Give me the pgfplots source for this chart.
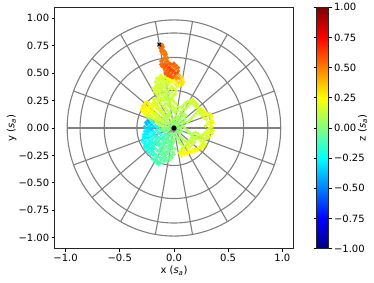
\documentclass[border=0pt]{standalone}
\usepackage{fontspec}
\setmainfont{DejaVu Sans}
\usepackage{pgfplots}
\pgfplotsset{compat=1.18}
\pgfplotstableread{
x y z
0.00 0.00 0.02
0.02 0.02 0.03
0.04 0.00 0.02
0.03 -0.03 0.01
0.05 -0.05 0.03
0.07 -0.03 0.05
0.06 0.00 0.06
0.08 0.02 0.07
0.10 0.00 0.08
0.12 -0.02 0.10
0.14 -0.04 0.09
0.16 -0.06 0.10
0.18 -0.08 0.12
0.20 -0.10 0.11
0.19 -0.13 0.13
0.17 -0.15 0.15
0.15 -0.17 0.17
0.13 -0.19 0.19
0.10 -0.20 0.20
0.08 -0.22 0.22
0.06 -0.21 0.21
0.08 -0.23 0.23
0.11 -0.22 0.24
0.14 -0.21 0.25
0.17 -0.20 0.24
0.20 -0.19 0.23
0.23 -0.18 0.22
0.25 -0.16 0.20
0.27 -0.14 0.18
0.25 -0.12 0.16
0.23 -0.10 0.15
0.21 -0.08 0.14
0.24 -0.07 0.15
0.27 -0.06 0.16
0.30 -0.07 0.17
0.32 -0.05 0.18
0.34 -0.03 0.19
0.33 0.00 0.20
0.34 0.03 0.21
0.33 0.06 0.22
0.34 0.09 0.21
0.32 0.11 0.20
0.29 0.12 0.19
0.27 0.14 0.18
0.25 0.15 0.17
0.23 0.17 0.16
0.21 0.19 0.15
0.19 0.21 0.14
0.17 0.23 0.15
0.15 0.22 0.14
0.13 0.20 0.13
0.11 0.18 0.12
0.09 0.17 0.11
0.07 0.15 0.10
0.06 0.13 0.09
0.08 0.11 0.08
0.06 0.09 0.07
0.04 0.07 0.06
0.02 0.05 0.05
0.00 0.03 0.04
0.03 0.03 0.04
0.05 0.04 0.05
0.07 0.06 0.06
0.09 0.05 0.07
0.10 0.08 0.08
0.11 0.11 0.09
0.09 0.13 0.10
0.04 0.10 0.08
0.02 0.08 0.06
0.00 0.06 0.05
-0.02 0.04 0.04
-0.04 0.02 0.03
-0.06 0.00 0.02
-0.08 -0.01 0.00
0.07 0.19 0.12
0.09 0.21 0.13
0.11 0.23 0.14
0.13 0.24 0.15
0.15 0.25 0.16
0.17 0.26 0.17
0.19 0.24 0.16
0.21 0.22 0.17
0.22 0.20 0.18
0.24 0.18 0.19
0.26 0.17 0.20
0.28 0.15 0.21
0.30 0.14 0.22
0.31 0.12 0.21
0.33 0.13 0.22
0.35 0.11 0.22
0.35 0.07 0.21
0.36 0.05 0.22
0.35 0.01 0.21
0.36 -0.02 0.20
0.35 -0.05 0.19
0.33 -0.08 0.18
0.31 -0.09 0.17
0.29 -0.10 0.17
0.27 -0.09 0.16
0.25 -0.08 0.15
0.22 -0.05 0.14
0.20 -0.04 0.13
0.18 -0.05 0.12
0.16 -0.09 0.12
0.14 -0.11 0.13
0.12 -0.13 0.14
0.10 -0.12 0.12
0.08 -0.10 0.10
0.06 -0.08 0.08
0.04 -0.10 0.06
0.05 -0.13 0.08
0.07 -0.15 0.10
0.09 -0.17 0.13
0.11 -0.16 0.15
0.13 -0.15 0.16
0.15 -0.13 0.15
0.17 -0.11 0.14
0.07 -0.19 0.18
0.05 -0.23 0.22
0.07 -0.25 0.24
0.10 -0.24 0.25
0.13 -0.23 0.26
0.16 -0.22 0.25
0.19 -0.21 0.24
0.22 -0.20 0.23
0.25 -0.19 0.22
0.27 -0.17 0.21
0.29 -0.15 0.20
0.28 -0.12 0.19
0.12 0.05 0.09
0.14 0.07 0.10
0.16 0.09 0.11
0.18 0.11 0.12
0.20 0.13 0.13
0.22 0.15 0.15
0.24 0.13 0.16
0.26 0.11 0.17
0.28 0.09 0.18
0.30 0.08 0.19
0.31 0.04 0.19
0.29 0.02 0.18
0.31 -0.02 0.18
0.29 -0.04 0.17
-0.02 0.01 0.02
-0.04 -0.01 0.00
-0.06 -0.03 -0.02
-0.05 -0.06 -0.03
-0.03 -0.08 -0.02
-0.01 -0.10 -0.01
-0.03 -0.12 -0.03
-0.05 -0.14 -0.05
-0.04 -0.17 -0.04
-0.02 -0.19 -0.02
-0.04 -0.21 -0.04
-0.06 -0.23 -0.06
-0.08 -0.25 -0.08
-0.10 -0.27 -0.07
-0.12 -0.29 -0.09
-0.14 -0.31 -0.10
-0.16 -0.29 -0.12
-0.15 -0.26 -0.11
-0.17 -0.24 -0.13
-0.19 -0.22 -0.15
-0.21 -0.24 -0.17
-0.23 -0.22 -0.19
-0.25 -0.20 -0.20
-0.27 -0.18 -0.21
-0.25 -0.15 -0.19
-0.23 -0.13 -0.17
-0.21 -0.15 -0.16
-0.19 -0.17 -0.14
-0.17 -0.19 -0.12
-0.15 -0.21 -0.10
-0.13 -0.23 -0.08
-0.11 -0.21 -0.07
-0.09 -0.19 -0.05
-0.10 -0.16 -0.06
-0.12 -0.14 -0.08
-0.14 -0.12 -0.10
-0.16 -0.10 -0.12
-0.18 -0.08 -0.15
-0.20 -0.06 -0.18
-0.22 -0.04 -0.22
-0.24 -0.06 -0.25
-0.26 -0.08 -0.24
-0.28 -0.06 -0.26
-0.27 -0.03 -0.28
-0.25 -0.01 -0.30
-0.23 0.01 -0.33
-0.25 0.03 -0.36
-0.23 0.05 -0.38
-0.21 0.03 -0.35
-0.19 0.01 -0.32
-0.20 -0.02 -0.28
-0.18 -0.04 -0.25
-0.16 -0.02 -0.22
-0.14 -0.04 -0.18
-0.12 -0.06 -0.15
-0.10 -0.08 -0.12
-0.08 -0.06 -0.10
-0.06 -0.08 -0.08
-0.08 -0.10 -0.09
-0.10 -0.12 -0.10
-0.07 -0.13 -0.07
-0.26 -0.12 -0.22
-0.28 -0.10 -0.25
-0.27 -0.14 -0.23
-0.20 -0.10 -0.20
-0.22 -0.12 -0.21
-0.24 -0.10 -0.23
-0.22 -0.08 -0.24
-0.20 -0.13 -0.18
-0.18 -0.14 -0.16
-0.16 -0.15 -0.14
-0.14 -0.16 -0.12
-0.12 -0.18 -0.10
-0.13 -0.20 -0.09
-0.11 -0.24 -0.07
-0.09 -0.23 -0.06
-0.07 -0.21 -0.05
-0.05 -0.19 -0.04
-0.07 -0.17 -0.06
-0.05 -0.16 -0.05
-0.03 -0.15 -0.03
-0.01 -0.14 -0.02
-0.02 -0.17 -0.03
-0.01 -0.22 -0.02
-0.03 -0.25 -0.04
-0.05 -0.27 -0.05
-0.07 -0.29 -0.06
-0.09 -0.30 -0.07
-0.11 -0.32 -0.08
-0.13 -0.27 -0.09
-0.17 -0.27 -0.12
-0.19 -0.25 -0.14
-0.21 -0.21 -0.17
-0.23 -0.19 -0.19
-0.25 -0.17 -0.21
-0.27 -0.16 -0.22
-0.29 -0.12 -0.24
-0.28 -0.08 -0.26
-0.26 -0.05 -0.28
-0.24 -0.03 -0.30
-0.22 -0.01 -0.32
-0.27 0.01 -0.33
-0.26 0.05 -0.37
-0.24 0.07 -0.40
-0.22 0.06 -0.38
-0.21 -0.01 -0.34
-0.19 -0.06 -0.24
-0.17 -0.07 -0.20
-0.15 -0.08 -0.17
-0.13 -0.09 -0.14
-0.11 -0.10 -0.11
-0.09 -0.14 -0.08
-0.07 -0.10 -0.06
-0.05 -0.11 -0.04
-0.03 -0.05 -0.01
-0.01 -0.06 0.00
-0.09 -0.03 -0.06
-0.11 -0.02 -0.07
-0.13 -0.01 -0.12
-0.15 0.01 -0.16
-0.17 0.02 -0.22
-0.17 -0.12 -0.15
-0.15 -0.14 -0.13
-0.19 -0.19 -0.16
-0.21 -0.18 -0.18
-0.23 -0.16 -0.20
-0.20 -0.28 -0.13
-0.18 -0.30 -0.11
-0.16 -0.32 -0.10
-0.14 -0.33 -0.09
-0.08 -0.27 -0.06
-0.04 -0.29 -0.04
-0.02 -0.27 -0.02
0.00 -0.24 -0.01
0.01 -0.19 0.00
0.00 -0.12 0.01
0.02 -0.08 0.02
0.01 -0.05 0.01
-0.19 0.05 -0.20
-0.21 0.07 -0.10
-0.23 0.09 0.05
-0.25 0.11 0.15
-0.27 0.13 0.22
-0.29 0.15 0.26
-0.28 0.18 0.28
-0.26 0.20 0.27
-0.24 0.18 0.25
-0.22 0.16 0.24
-0.20 0.14 0.22
-0.18 0.12 0.20
-0.16 0.10 0.17
-0.14 0.08 0.14
-0.12 0.06 0.12
-0.10 0.04 0.10
-0.08 0.06 0.09
-0.06 0.08 0.10
-0.08 0.10 0.12
-0.10 0.12 0.14
-0.12 0.14 0.15
-0.14 0.16 0.17
-0.16 0.18 0.19
-0.18 0.20 0.20
-0.20 0.22 0.21
-0.18 0.24 0.19
-0.16 0.22 0.17
-0.14 0.24 0.16
-0.12 0.22 0.14
-0.10 0.20 0.13
-0.08 0.18 0.12
-0.06 0.16 0.11
-0.04 0.14 0.10
-0.06 0.12 0.09
-0.30 0.17 0.27
-0.29 0.20 0.28
-0.27 0.22 0.27
-0.25 0.24 0.26
-0.23 0.22 0.25
-0.21 0.20 0.23
-0.23 0.19 0.24
-0.25 0.16 0.25
-0.27 0.15 0.26
-0.26 0.13 0.24
-0.24 0.13 0.22
-0.22 0.11 0.20
-0.20 0.10 0.18
-0.18 0.08 0.16
-0.16 0.06 0.13
-0.14 0.04 0.10
-0.12 0.02 0.08
-0.10 0.00 0.06
-0.08 0.02 0.07
-0.06 0.04 0.08
-0.04 0.05 0.07
-0.02 0.07 0.08
0.00 0.09 0.09
0.02 0.11 0.10
0.01 0.14 0.11
-0.01 0.16 0.12
-0.03 0.18 0.13
-0.05 0.20 0.14
-0.03 0.22 0.15
-0.01 0.20 0.14
0.01 0.18 0.13
0.03 0.16 0.12
0.04 0.19 0.13
0.02 0.22 0.14
0.00 0.24 0.15
-0.02 0.26 0.14
-0.04 0.24 0.15
-0.06 0.22 0.14
-0.20 0.18 0.22
-0.22 0.14 0.22
-0.19 0.16 0.20
-0.17 0.14 0.18
-0.15 0.12 0.16
-0.13 0.10 0.15
-0.11 0.08 0.13
-0.09 0.09 0.12
-0.07 0.11 0.12
-0.05 0.10 0.10
-0.03 0.12 0.10
-0.11 0.16 0.16
-0.09 0.14 0.14
-0.13 0.18 0.17
-0.15 0.20 0.18
-0.17 0.22 0.19
-0.19 0.26 0.18
-0.17 0.27 0.17
-0.15 0.26 0.16
-0.13 0.25 0.15
-0.08 0.22 0.13
-0.10 0.25 0.14
-0.12 0.27 0.15
-0.14 0.29 0.16
-0.16 0.31 0.17
-0.15 0.34 0.16
-0.13 0.36 0.15
-0.11 0.34 0.14
-0.09 0.32 0.13
-0.07 0.30 0.12
-0.05 0.28 0.11
-0.04 0.31 0.12
-0.06 0.34 0.13
-0.08 0.37 0.14
-0.10 0.39 0.15
-0.12 0.41 0.16
-0.14 0.43 0.17
-0.12 0.45 0.18
-0.10 0.43 0.17
-0.08 0.41 0.16
-0.06 0.39 0.15
-0.04 0.41 0.17
-0.02 0.43 0.20
-0.18 0.33 0.17
-0.19 0.36 0.18
-0.17 0.38 0.17
-0.15 0.40 0.16
-0.17 0.42 0.18
-0.16 0.45 0.19
-0.14 0.46 0.19
-0.12 0.48 0.20
-0.10 0.46 0.19
-0.08 0.47 0.20
-0.06 0.45 0.19
-0.04 0.46 0.21
-0.02 0.47 0.24
-0.03 0.44 0.20
-0.05 0.42 0.18
-0.07 0.43 0.17
-0.09 0.45 0.18
-0.11 0.37 0.15
-0.13 0.39 0.16
-0.15 0.37 0.16
-0.17 0.35 0.17
-0.13 0.32 0.15
-0.11 0.30 0.14
-0.09 0.28 0.13
-0.07 0.26 0.12
-0.05 0.25 0.12
-0.03 0.27 0.13
-0.01 0.29 0.14
0.01 0.31 0.15
0.02 0.34 0.16
0.00 0.36 0.17
-0.02 0.38 0.17
-0.04 0.36 0.15
-0.02 0.33 0.14
-0.06 0.31 0.13
-0.08 0.33 0.14
0.03 0.38 0.18
0.01 0.40 0.20
-0.01 0.42 0.22
0.00 0.45 0.25
0.02 0.43 0.30
0.04 0.41 0.33
0.06 0.42 0.30
0.08 0.44 0.28
0.07 0.46 0.32
0.08 0.40 0.30
0.09 0.42 0.29
0.07 0.39 0.31
0.05 0.45 0.42
0.02 0.45 0.45
0.05 0.48 0.40
0.03 0.46 0.48
0.01 0.48 0.52
-0.01 0.46 0.55
-0.03 0.48 0.57
-0.05 0.50 0.58
-0.07 0.52 0.56
-0.09 0.54 0.55
-0.11 0.56 0.54
-0.10 0.58 0.53
-0.08 0.56 0.55
-0.06 0.54 0.57
-0.04 0.52 0.58
-0.02 0.50 0.56
0.00 0.52 0.55
0.02 0.54 0.54
0.00 0.56 0.53
-0.02 0.54 0.54
-0.04 0.56 0.55
-0.06 0.58 0.54
-0.12 0.58 0.54
-0.12 0.61 0.53
-0.10 0.62 0.52
-0.06 0.61 0.54
-0.04 0.59 0.56
-0.02 0.58 0.57
0.00 0.59 0.56
0.02 0.57 0.55
0.04 0.55 0.54
0.04 0.52 0.56
0.03 0.50 0.58
0.01 0.50 0.60
-0.01 0.52 0.61
-0.03 0.53 0.62
-0.05 0.55 0.60
-0.07 0.57 0.58
-0.09 0.58 0.56
-0.08 0.50 0.56
-0.06 0.48 0.58
-0.04 0.47 0.57
-0.02 0.46 0.55
0.00 0.47 0.53
-0.08 0.60 0.53
-0.07 0.62 0.52
-0.06 0.64 0.52
-0.09 0.64 0.53
-0.08 0.66 0.52
-0.07 0.67 0.51
-0.09 0.67 0.52
-0.10 0.68 0.51
-0.08 0.69 0.53
-0.09 0.70 0.52
-0.12 0.70 0.53
-0.10 0.71 0.52
-0.11 0.72 0.53
-0.13 0.73 0.55
-0.12 0.74 0.54
-0.10 0.74 0.54
-0.11 0.76 0.54
-0.135 0.76 0.55
}\walk
\definecolor{gridgray}{RGB}{128,128,128}
\begin{document}
\begin{tikzpicture}
\useasboundingbox (0,0) rectangle (374pt,283pt);
\begin{axis}[
  at={(54.7pt,34.3pt)}, anchor=south west,
  scale only axis, width=238.5pt, height=241.4pt,
  xmin=-1.1, xmax=1.1, ymin=-1.1, ymax=1.1,
  axis line style={line width=0.8pt, black!85},
  tick align=outside, major tick length=3pt,
  tick style={line width=0.8pt, black},
  xtick pos=left, ytick pos=left,
  xtick={-1,-0.5,0,0.5,1},
  xticklabels={−1.0,−0.5,0.0,0.5,1.0},
  ytick={-1,-0.75,-0.5,-0.25,0,0.25,0.5,0.75,1},
  yticklabels={−1.00,−0.75,−0.50,−0.25,0.00,0.25,0.50,0.75,1.00},
  ticklabel style={font=\fontsize{10}{12}\selectfont},
  xticklabel style={yshift=1pt},
  yticklabel style={xshift=1pt},
  every axis x label/.style={at={(axis description cs:0.5,0)}, anchor=center, yshift=-22pt, font=\fontsize{10}{12}\selectfont},
  every axis y label/.style={at={(axis description cs:0,0.5)}, anchor=center, xshift=-43pt, rotate=90, font=\fontsize{10}{12}\selectfont},
  xlabel={x ({\itshape s}\textsubscript{\itshape a})},
  ylabel={y ({\itshape s}\textsubscript{\itshape a})},
  colormap/jet,
  point meta min=-1, point meta max=1,
  colorbar,
  colorbar style={
    at={(parent axis.north east)}, anchor=north west, xshift=14.8pt,
    width=12pt, height=241.4pt,
    axis line style={line width=0.8pt, black!85},
    ytick={-1,-0.75,-0.5,-0.25,0,0.25,0.5,0.75,1},
    yticklabels={−1.00,−0.75,−0.50,−0.25,0.00,0.25,0.50,0.75,1.00},
    yticklabel style={font=\fontsize{10}{12}\selectfont, xshift=-1pt},
    every axis y label/.style={at={(axis description cs:1,0.5)}, anchor=center, xshift=34pt, rotate=90, font=\fontsize{10}{12}\selectfont},
    ylabel={z ({\itshape s}\textsubscript{\itshape a})},
    tick align=outside, major tick length=3pt,
    tick style={line width=0.8pt, black},
  },
]
\addplot[scatter, only marks, mark=*, mark size=1.6pt,
  scatter/use mapped color={draw=mapped color, fill=mapped color},
  point meta=explicit] table[x=x, y=y, meta=z] {\walk};
\pgfplotsinvokeforeach{0.342,0.643,0.866,0.985}{
  \draw[gridgray, line width=1.1pt] (axis cs:0,0) circle [radius=#1];
}
\pgfplotsinvokeforeach{0,20,40,60,80,100,120,140,160,180,200,220,240,260,280,300,320,340}{
  \draw[gridgray, line width=1.1pt] (axis cs:0,0) -- (axis cs:{0.985*cos(#1)},{0.985*sin(#1)});
}
\addplot[only marks, mark=*, mark size=2.3pt, black] coordinates {(0,0)};
\addplot[only marks, mark=x, mark size=2.6pt, line width=1pt, black] coordinates {(-0.135,0.76)};
\end{axis}
\end{tikzpicture}
\end{document}
